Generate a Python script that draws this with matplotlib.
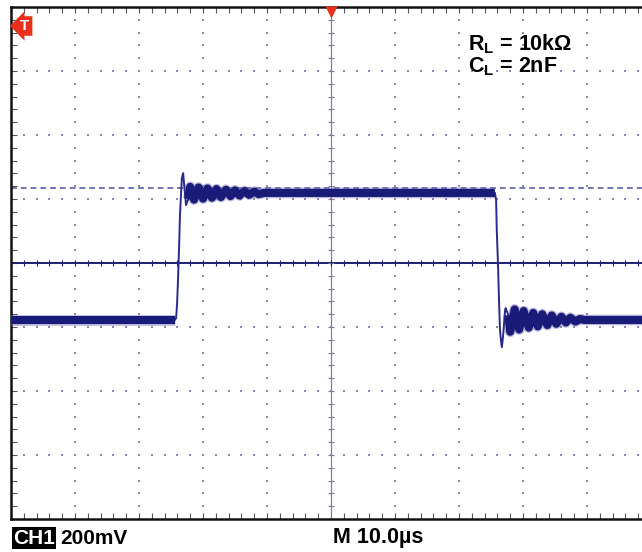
import numpy as np
import matplotlib.pyplot as plt
from matplotlib.ticker import MultipleLocator

plt.rcParams['font.family'] = ['Liberation Sans', 'DejaVu Sans']
plt.rcParams['mathtext.fontset'] = 'custom'
plt.rcParams['mathtext.rm'] = 'Liberation Sans:bold'

# scope settings: 10 us/div, 200 mV/div
t_per_div = 10.0
v_per_div = 0.2
ref_level = 0.234  # dashed reference marker (V)

# rising edge + first overshoot (thin trace), time in us, volts in V
rise_t = [-52.0, -24.4, -24.2, -24.06, -23.9, -23.75, -23.6, -23.4, -23.3, -23.1, -22.9, -22.65, -22.3]
rise_v = [-0.178, -0.178, -0.172, -0.131, -0.053, 0.041, 0.15, 0.228, 0.266, 0.281, 0.234, 0.181, 0.200]

# ringing after the rising edge, settling on the high level
high_t = [-22.3, -22.0, -21.4, -20.7, -20.0, -19.3, -18.6, -17.9, -17.2, -16.4, -15.7, -15.0,
          -14.3, -13.5, -12.8, -12.0, -11.3, -10.5, 25.6]
high_v = [0.200, 0.238, 0.198, 0.236, 0.201, 0.233, 0.204, 0.231, 0.206, 0.229, 0.209, 0.227,
          0.211, 0.225, 0.213, 0.223, 0.215, 0.219, 0.219]

# falling edge + undershoot (thin trace)
fall_t = [25.6, 25.8, 25.9, 26.1, 26.25, 26.4, 26.6, 26.7, 26.9, 27.2, 27.3, 27.7]
fall_v = [0.219, 0.197, 0.103, -0.006, -0.116, -0.209, -0.25, -0.263, -0.225, -0.147, -0.141, -0.163]

# ringing after the falling edge, settling on the low level
low_t = [27.7, 28.0, 28.7, 29.4, 30.1, 30.9, 31.6, 32.3, 33.0, 33.8, 34.5, 35.2, 36.0, 36.7,
         37.4, 38.2, 38.9, 39.6, 52.0]
low_v = [-0.163, -0.215, -0.145, -0.208, -0.150, -0.202, -0.156, -0.198, -0.160, -0.194, -0.164,
         -0.190, -0.168, -0.186, -0.171, -0.183, -0.175, -0.178, -0.178]

trace = '#1a1a78'
halo = '#7070b4'
dotc = '#8a8aa8'

fig = plt.figure(figsize=(6.42, 5.52), dpi=100)
ax = fig.add_axes([11 / 642, 33 / 552, 640 / 642, 512 / 552])
ax.set_xlim(-5 * t_per_div, 5 * t_per_div)
ax.set_ylim(-4 * v_per_div, 4 * v_per_div)

# graticule dots
xs_fine = np.arange(-50, 50.01, 2.0)
ys_fine = np.arange(-0.8, 0.801, 0.04)
for gx in np.arange(-40, 41, 10):
    if gx != 0:
        ax.scatter(np.full_like(ys_fine, gx), ys_fine, s=1.6, marker='s', color=dotc, lw=0, zorder=1)
for gy in np.arange(-0.6, 0.61, 0.2):
    if abs(gy) > 1e-9:
        ax.scatter(xs_fine, np.full_like(xs_fine, gy), s=1.6, marker='s', color=dotc, lw=0, zorder=1)

# centre cross with its small ticks
ax.axvline(0, color='#7a7a96', lw=0.8, zorder=2)
ax.axhline(0, color='#1e1e70', lw=1.4, zorder=2)
ax.scatter(np.zeros_like(ys_fine), ys_fine, marker='_', s=18, color='#7a7a96', lw=0.8, zorder=2)
ax.scatter(xs_fine, np.zeros_like(xs_fine), marker='|', s=18, color='#1e1e70', lw=0.8, zorder=2)

# reference level
ax.axhline(ref_level, color='#5050a0', lw=1.1, dashes=(3.8, 2.6), zorder=2)

# trace
ax.plot(rise_t, rise_v, color='#2a2a8c', lw=1.4, zorder=4)
ax.plot(fall_t, fall_v, color='#2a2a8c', lw=1.4, zorder=4)
for tt, vv in [(high_t, high_v), (low_t, low_v), (rise_t[:2], rise_v[:2])]:
    ax.plot(tt, vv, color=halo, lw=7.6, alpha=0.5, solid_capstyle='butt', zorder=3)
    ax.plot(tt, vv, color=trace, lw=5.8, solid_capstyle='butt', zorder=5)

# border with inward ticks
for s in ax.spines.values():
    s.set_linewidth(1.8)
    s.set_color('#111111')
ax.xaxis.set_major_locator(MultipleLocator(10))
ax.xaxis.set_minor_locator(MultipleLocator(2))
ax.yaxis.set_major_locator(MultipleLocator(0.2))
ax.yaxis.set_minor_locator(MultipleLocator(0.04))
ax.tick_params(which='both', direction='in', top=True, right=True, length=4, width=0.8,
               color='#555566', labelbottom=False, labelleft=False)

# trigger markers
ax.plot(0, 0.785, marker='v', ms=8, color='#e8301a', mec='none', clip_on=False, zorder=6)
fig.text(25 / 642, 1 - 26 / 552, 'T', color='white', fontsize=11, fontweight='bold', ha='center', va='center',
         bbox=dict(boxstyle='larrow,pad=0.18', fc='#e8301a', ec='none'))

# annotations
fig.text(468 / 642, 1 - 44 / 552, r'R$_{\rm L}$ = 10kΩ', fontsize=15.5, fontweight='bold', va='center')
fig.text(468 / 642, 1 - 67 / 552, r'C$_{\rm L}$ = 2nF', fontsize=15.5, fontweight='bold', va='center')
fig.text(13 / 642, 1 - 538 / 552, 'CH1', fontsize=15, fontweight='bold', color='white', va='center',
         bbox=dict(boxstyle='square,pad=0.05', fc='black', ec='none'))
fig.text(60 / 642, 1 - 538 / 552, '200mV', fontsize=15, fontweight='bold', va='center')
fig.text(333 / 642, 1 - 538 / 552, 'M 10.0µs', fontsize=15.5, fontweight='bold', va='center')

fig.savefig('out.png', dpi=100)
